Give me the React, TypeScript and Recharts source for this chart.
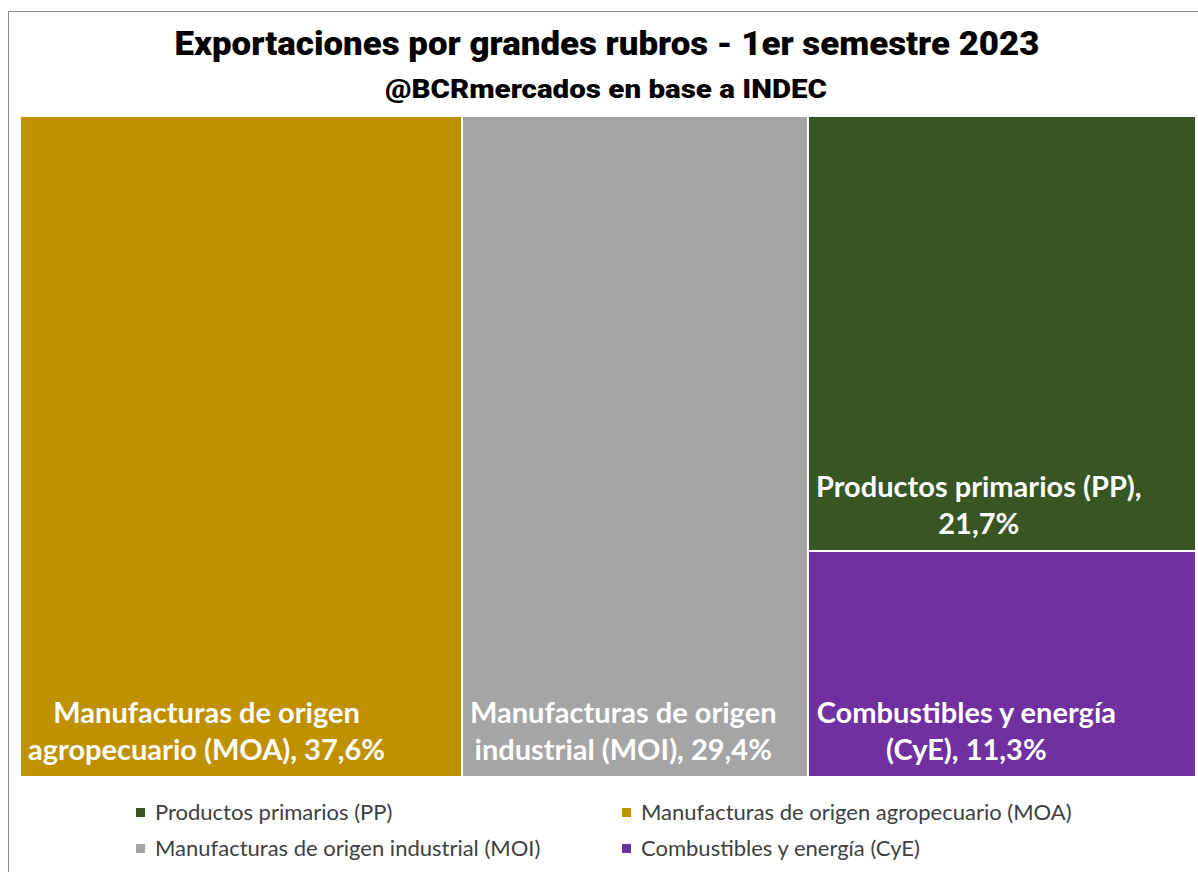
import React from 'react';
import { Treemap } from 'recharts';

// categories in the order the treemap lays them out
const categories = ['MOA', 'MOI', 'PP', 'CyE'];
const categoryNames = [
  'Manufacturas de origen agropecuario (MOA)',
  'Manufacturas de origen industrial (MOI)',
  'Productos primarios (PP)',
  'Combustibles y energía (CyE)',
];
// share of total exports, %
const shares = [37.6, 29.4, 21.7, 11.3];
// how Excel wrapped the data labels
const labelHeads = ['Manufacturas de origen', 'Manufacturas de origen', 'Productos primarios (PP),', 'Combustibles y energía'];
const labelTails = ['agropecuario (MOA),', 'industrial (MOI),', '', '(CyE),'];
const legendOrder = ['PP', 'MOA', 'MOI', 'CyE'];

const palette: Record<string, string> = {
  MOA: '#BF9000',
  MOI: '#A5A5A5',
  PP: '#375623',
  CyE: '#7030A0',
};

const LABEL_SIZE = 29;
const LABEL_FONT = `bold ${LABEL_SIZE}px Lato`;

const fmtPct = (v: number) => v.toFixed(1).replace('.', ',') + '%';

let ctx: CanvasRenderingContext2D | null = null;
const textWidth = (s: string) => {
  if (!ctx) ctx = document.createElement('canvas').getContext('2d');
  if (!ctx) return s.length * 14;
  ctx.font = LABEL_FONT;
  return ctx.measureText(s).width;
};

const treeData = categories.map((code, i) => ({
  name: code,
  value: shares[i],
  color: palette[code],
  head: labelHeads[i],
  tail: labelTails[i],
}));

const CellContent = (props: any) => {
  const { x, y, width, height, depth, value, color, head, tail } = props;
  if (depth !== 1) return null;
  const line2 = (tail ? tail + ' ' : '') + fmtPct(value);
  const blockW = Math.max(textWidth(head), textWidth(line2));
  const cx = x + 8 + blockW / 2;
  const bottom = y + height;
  return (
    <g>
      <rect x={x} y={y} width={width} height={height} fill={color} stroke="#fff" strokeWidth={2} />
      <text x={cx} y={bottom - 54} textAnchor="middle" fill="#fff" fontFamily="Lato" fontWeight={700} fontSize={LABEL_SIZE}>
        {head}
      </text>
      <text x={cx} y={bottom - 17} textAnchor="middle" fill="#fff" fontFamily="Lato" fontWeight={700} fontSize={LABEL_SIZE}>
        {line2}
      </text>
    </g>
  );
};

export default function App() {
  return (
    <div
      style={{
        position: 'absolute',
        left: 8,
        top: 11,
        width: 1189,
        height: 860,
        borderTop: '1px solid #8a8a8a',
        borderLeft: '1px solid #8a8a8a',
        background: '#fff',
        overflow: 'hidden',
      }}
    >
      <style>{'body{margin:0;overflow:hidden}'}</style>
      <svg width={1189} height={104} style={{ position: 'absolute', left: 0, top: 0 }}>
        <text
          x={598}
          y={43}
          textAnchor="middle"
          textLength={865}
          lengthAdjust="spacingAndGlyphs"
          fontFamily="Roboto"
          fontWeight={900}
          fontSize={33}
          fill="#000"
        >
          Exportaciones por grandes rubros - 1er semestre 2023
        </text>
        <text
          x={597}
          y={86}
          textAnchor="middle"
          textLength={442}
          lengthAdjust="spacingAndGlyphs"
          fontFamily="Roboto"
          fontWeight={900}
          fontSize={25}
          fill="#000"
        >
          @BCRmercados en base a INDEC
        </text>
      </svg>
      <div style={{ position: 'absolute', left: 11, top: 104, width: 1176, height: 661 }}>
        <Treemap
          width={1176}
          height={661}
          data={treeData}
          dataKey="value"
          nameKey="name"
          aspectRatio={1}
          isAnimationActive={false}
          content={(p: any) => <CellContent {...p} />}
        />
      </div>
      <svg width={1189} height={80} style={{ position: 'absolute', left: 0, top: 780 }}>
        {legendOrder.map((code, i) => {
          const col = i % 2;
          const row = Math.floor(i / 2);
          const lx = col === 0 ? 127 : 613;
          const ly = 28 + row * 36;
          return (
            <g key={code}>
              <rect x={lx} y={ly - 12} width={9} height={9} fill={palette[code]} />
              <text x={lx + 19} y={ly} fontFamily="Lato" fontSize={22} fill="#404040">
                {categoryNames[categories.indexOf(code)]}
              </text>
            </g>
          );
        })}
      </svg>
    </div>
  );
}
